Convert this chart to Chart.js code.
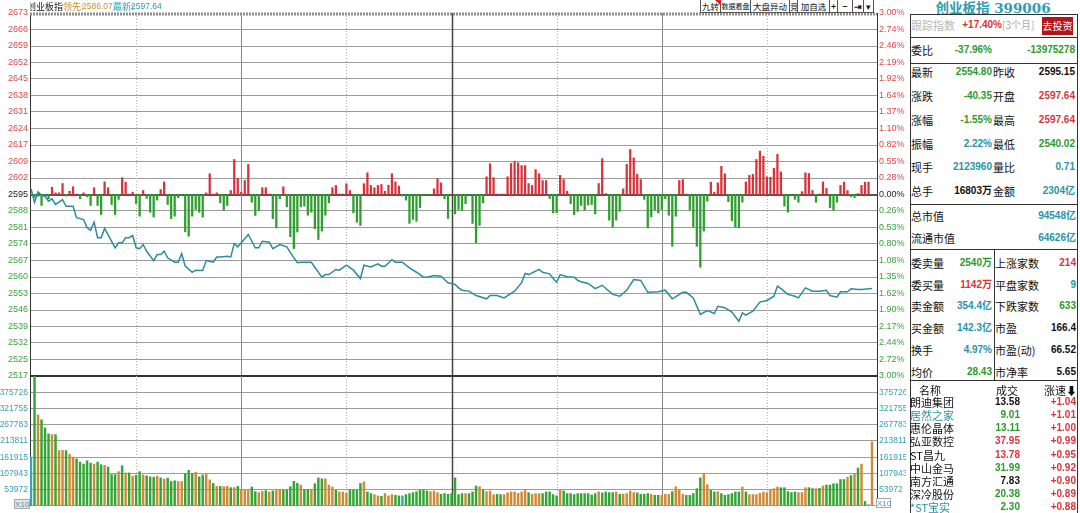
<!DOCTYPE html>
<html>
<head>
<meta charset="utf-8">
<title>创业板指 分时</title>
<script src="https://cdn.jsdelivr.net/npm/chart.js@4.4.1/dist/chart.umd.min.js"></script>
<style>
  html, body { margin: 0; padding: 0; background: #fff; }
  #wrap { position: relative; width: 1080px; height: 513px; overflow: hidden; background: #fff;
          font-family: "Noto Sans CJK SC", "Liberation Sans", sans-serif; }
  .box { position: absolute; }
  .abs { position: absolute; white-space: nowrap; height: 16px; line-height: 16px; }
  .lb { font-size: 11px; color: #111; }
  .vl { font-size: 10px; font-weight: bold; font-family: "Liberation Sans", "Noto Sans CJK SC", sans-serif; }
  .title { font-size: 13.5px; font-weight: bold; font-family: "DejaVu Serif", "Noto Sans CJK SC", serif; }
  .ln { position: absolute; background: #333; }
  #head { position: absolute; left: 30px; top: 0; width: 300px; height: 13px; overflow: hidden; font-size: 9px; line-height: 13px; }
  #head span { position: absolute; top: 0; white-space: nowrap; }
  #head .num { font-family: "Liberation Sans", sans-serif; font-size: 8.5px; }
  #tools span { position: absolute; top: 0; line-height: 12px; border: 1px solid #555; border-top: none;
                font-size: 8.5px; text-align: center; color: #111; background: #fff; box-sizing: border-box; height: 13px; }
  .x10 { position: absolute; font-size: 8px; line-height: 9px; height: 10px; border: 1px solid #aaa; color: #5a8fae;
         font-family: "Liberation Sans", sans-serif; text-align: center; box-sizing: border-box; }
</style>
</head>
<body>
<div id="wrap">
  <div class="box" style="left:0;top:0;width:906px;height:386px"><canvas id="priceCanvas"></canvas></div>
  <div class="box" style="left:0;top:368px;width:906px;height:145px"><canvas id="volCanvas"></canvas></div>

  <div id="head">
    <span style="left:-3px;color:#111">创业板指</span>
    <span style="left:33px;color:#c8902e">领先:</span>
    <span class="num" style="left:52px;color:#c8902e">2586.07</span>
    <span style="left:83px;color:#2a9aaa">最新:</span>
    <span class="num" style="left:101px;color:#2a9aaa">2597.64</span>
  </div>

  <div id="tools">
    <span style="left:700px;width:21px">九转</span>
    <span style="left:720px;width:31px;font-size:7px">数据看盘</span>
    <span style="left:750px;width:40px">大盘异动</span>
    <span style="left:789px;width:9px">竞</span>
    <span style="left:797px;width:33px">加自选</span>
    <span style="left:829px;width:9px;font-weight:bold">+</span>
    <span style="left:837px;width:16px;font-weight:bold">−</span>
    <span style="left:852px;width:12px;font-weight:bold">⇥</span>
    <span style="left:863px;width:11px">▾</span>
  </div>
  <div style="position:absolute;left:715px;top:0;width:0;height:0;border-top:6px solid #e02020;border-left:6px solid transparent"></div>

  <div class="x10" style="left:14px;top:499px;width:16px;background:#e4e4e4">X10</div>
  <div class="x10" style="left:876px;top:498px;width:15px;background:#fff">X10</div>
</div>

<script>
// Reference values
const prevClose = 2595.15;
const pMax = prevClose * 1.03;
const pMin = prevClose * 0.97;
const volStep = 53972;

// Tick labels as shown, top to bottom
const priceTicks = ["2673","2666","2659","2652","2645","2638","2631","2624","2617","2609","2602","2595",
  "2588","2581","2574","2567","2560","2553","2546","2539","2532","2525","2517"];
const pctTicks = ["3.00%","2.74%","2.46%","2.19%","1.92%","1.64%","1.37%","1.10%","0.82%","0.55%","0.28%","0.00%",
  "0.26%","0.53%","0.80%","1.08%","1.35%","1.62%","1.90%","2.17%","2.44%","2.72%","3.00%"];
const volTicks = ["375726","321755","267783","213811","161915","107943","53972"];

// Minutes after 9:30 (0..240, lunch break removed) where the time grid lines sit
const gridMinutes = [30, 60, 90, 120, 150, 180, 210];

// Index line: minute -> price
const lineMinutes = [
  0, 1, 2, 3, 4, 5, 6, 7, 9, 10,
  12, 13, 15, 16, 17, 18, 19, 20, 21, 24,
  25, 26, 27, 28, 29, 30, 31, 32, 33, 35,
  36, 37, 38, 39, 41, 42, 43, 44, 46, 47,
  49, 50, 52, 53, 54, 56, 57, 58, 59, 62,
  64, 65, 66, 68, 69, 71, 73, 74, 76, 77,
  80, 83, 84, 85, 87, 88, 90, 92, 94, 95,
  97, 99, 100, 101, 103, 104, 106, 108, 110, 112,
  113, 115, 117, 119, 120, 121, 122, 123, 125, 127,
  130, 131, 133, 135, 137, 138, 140, 141, 142, 145,
  146, 148, 149, 150, 151, 153, 155, 156, 157, 159,
  161, 163, 166, 168, 170, 172, 174, 176, 179, 181,
  183, 186, 187, 189, 191, 193, 195, 196, 198, 200,
  202, 203, 204, 206, 208, 210, 212, 213, 214, 216,
  218, 219, 221, 223, 225, 227, 228, 230, 231, 233,
  234, 236, 237, 240
];
const linePrices = [
  2597.6, 2591.8, 2596.3, 2594.8, 2594.4, 2592.3, 2593.3, 2590.9, 2593.0, 2590.1,
  2590.1, 2585.2, 2584.4, 2580.9, 2579.8, 2583.3, 2576.6, 2576.6, 2580.6, 2572.3,
  2574.4, 2574.4, 2576.6, 2576.6, 2577.6, 2572.3, 2571.9, 2573.7, 2570.8, 2566.8,
  2569.4, 2569.4, 2570.8, 2568.0, 2566.1, 2566.1, 2569.8, 2564.4, 2561.8, 2562.7,
  2562.6, 2566.8, 2566.1, 2568.3, 2568.3, 2568.7, 2568.4, 2574.1, 2572.7, 2578.0,
  2572.3, 2572.3, 2575.1, 2574.7, 2571.9, 2573.7, 2572.7, 2570.2, 2565.9, 2566.1,
  2566.1, 2559.7, 2560.8, 2560.8, 2563.0, 2562.7, 2564.8, 2562.7, 2559.1, 2564.8,
  2564.1, 2565.4, 2564.4, 2564.4, 2567.2, 2566.1, 2566.1, 2563.7, 2561.8, 2559.7,
  2559.7, 2560.4, 2560.1, 2557.3, 2557.0, 2556.6, 2555.1, 2554.1, 2553.7, 2551.8,
  2550.4, 2551.8, 2551.8, 2550.8, 2552.7, 2553.7, 2557.3, 2561.3, 2560.8, 2563.0,
  2561.8, 2561.1, 2559.1, 2557.5, 2560.8, 2559.9, 2559.7, 2558.3, 2557.7, 2557.0,
  2554.8, 2556.2, 2552.3, 2551.5, 2554.1, 2558.7, 2558.3, 2553.2, 2553.4, 2554.1,
  2550.4, 2553.2, 2553.2, 2550.8, 2543.7, 2545.4, 2544.1, 2547.2, 2546.6, 2544.7,
  2540.8, 2544.4, 2543.4, 2545.1, 2549.0, 2549.7, 2551.5, 2555.8, 2554.8, 2552.3,
  2551.5, 2550.8, 2555.1, 2553.7, 2553.7, 2554.1, 2551.8, 2551.1, 2553.4, 2553.4,
  2554.7, 2554.4, 2554.4, 2554.8
];

// Red/green strength bars, index points from the previous close, one per minute
const leadBars = [
  -0.2, -1.2, -0.7, -4.7, -0.2, -1.8, 3.1, 0.7, 0.7, 4.7,
  -0.7, 1.4, 3.3, 0.2, -1.8, 0.7, -1.0, -4.7, 2.9, -4.7,
  -8.6, 5.4, 2.9, -4.3, -8.6, -2.1, 7.2, 5.3, 0.2, 1.0,
  -3.9, -9.3, 1.7, -1.7, -7.6, -9.7, -2.4, 2.1, 5.4, -4.3,
  -10.4, -9.3, -1.4, -0.2, -16.0, -17.9, -9.3, -6.4, -7.6, -9.7,
  0.7, 8.9, 0.2, 0.7, -3.6, -6.7, -4.7, 1.7, 15.0, 6.9,
  1.0, 6.0, 12.9, -3.3, -9.0, -6.9, 2.9, 2.9, 0.2, -10.4,
  -14.3, -1.8, 3.3, -5.3, -18.1, -23.2, -16.1, -5.3, -5.0, -8.9,
  -7.6, -14.7, -19.3, -15.7, -8.9, -3.6, 2.9, 3.9, 0.2, 0.2,
  4.6, 1.7, -7.9, -11.9, -13.3, 4.6, 9.3, 3.9, 2.9, 3.9,
  4.3, 1.4, 4.0, 8.9, 5.4, 3.6, -0.7, -2.4, -12.4, -10.7,
  -11.5, -5.7, -0.2, -0.2, -0.2, 2.4, 6.7, 5.0, -1.8, -10.3,
  0, -8.3, -6.4, -6.9, -3.9, -0.2, -12.4, -20.7, -13.3, -3.6,
  7.6, 13.2, 7.2, 0.2, 0.2, 0.2, 7.6, 13.3, 14.3, 13.6,
  12.4, 12.4, 4.7, 3.9, 10.7, 8.9, 6.0, 6.0, -1.7, -7.9,
  -7.9, 8.2, 6.4, 1.4, -4.0, -8.6, -7.2, -4.7, -6.7, -4.5,
  -4.3, -8.3, 4.7, 15.4, 0.4, -11.0, -13.9, -11.0, -7.2, 2.4,
  12.9, 19.3, 15.7, 8.6, 6.4, -2.1, -14.3, -9.6, -6.7, -7.9,
  -6.4, -1.8, -8.9, -22.2, -9.3, 6.0, 6.4, 0.2, -6.7, -13.9,
  -22.2, -31.2, -15.7, -2.9, 5.3, 1.0, 5.0, 12.1, 8.9, -3.1,
  -11.2, -13.9, -14.3, -3.3, 5.4, 8.2, 8.6, 15.0, 18.6, 16.4,
  7.6, 7.4, 11.2, 17.2, 9.7, -5.0, -7.6, -0.2, -2.1, -3.3,
  1.2, 9.3, 9.0, 1.7, -3.3, 0.2, 5.4, 2.6, -5.7, -6.7,
  -3.3, 3.9, 5.3, 1.7, -1.0, -1.4, 0.4, 3.9, 5.3, 5.3
];

// Volume per minute (0..240)
const volumes = [
  161900, 460000, 302600, 286200, 259100, 239400, 237100, 237100, 183800, 184800,
  183800, 171700, 161900, 156400, 145600, 139000, 149800, 142300, 139000, 145600,
  136700, 134800, 129200, 104000, 104000, 113800, 133500, 109600, 109600, 98800,
  102100, 113800, 103000, 99800, 96500, 95500, 98800, 93200, 89000, 92200,
  81100, 83400, 81100, 81100, 107300, 118400, 107300, 111900, 96500, 103000,
  107300, 86700, 74600, 64800, 64800, 63800, 64800, 60500, 60500, 64800,
  53000, 54000, 53000, 62800, 47400, 44200, 48400, 50700, 46400, 49700,
  51700, 55000, 51700, 53000, 63800, 81800, 75200, 69300, 55000, 55000,
  55000, 73600, 93200, 90000, 90000, 69300, 62800, 51700, 46400, 46400,
  43200, 53000, 53000, 53000, 74600, 80100, 46400, 40900, 37600, 33400,
  32100, 40900, 33400, 37600, 35300, 33400, 33400, 37600, 40900, 44200,
  47400, 53000, 53000, 49700, 47400, 49700, 44200, 38600, 40900, 38600,
  40900, 93200, 37600, 40900, 40900, 40900, 46400, 66100, 63800, 53000,
  47400, 49700, 37600, 38600, 37600, 37600, 43200, 46400, 46400, 41900,
  46400, 51700, 44200, 38600, 40900, 40900, 40900, 46400, 46400, 37600,
  33400, 51700, 49700, 40900, 40900, 37600, 40900, 40900, 40900, 40900,
  36600, 40900, 46400, 43200, 46400, 44200, 44200, 46400, 38600, 38600,
  40900, 49700, 44200, 43200, 38600, 38600, 40900, 38600, 35300, 35300,
  35300, 38600, 38600, 47400, 63800, 51700, 38600, 35300, 35300, 40900,
  57200, 93200, 106300, 70300, 51700, 46400, 47400, 40900, 35300, 37600,
  40900, 46400, 46400, 62800, 46400, 37600, 37600, 37600, 41900, 46400,
  44200, 51700, 57200, 62800, 60500, 60500, 47400, 44200, 46400, 44200,
  44200, 60500, 60500, 57200, 57200, 58200, 66100, 69300, 69300, 73600,
  73600, 87700, 87700, 95500, 100700, 106300, 125900, 139000, 14700, 3900,
  213300
];
// Minute direction: 1 up, -1 down, 0 flat
const volDir = [
  0, -1, 1, -1, -1, -1, 1, -1, 1, 1,
  -1, 1, 1, -1, -1, -1, -1, -1, 1, -1,
  -1, 1, -1, -1, -1, 1, -1, 1, -1, 1,
  -1, -1, 1, -1, -1, -1, 1, -1, 1, -1,
  -1, -1, 1, 1, -1, -1, -1, 1, -1, -1,
  1, 1, -1, 1, -1, 1, 1, -1, 1, -1,
  1, 1, 1, -1, -1, 1, 1, -1, 1, -1,
  1, 1, -1, -1, -1, -1, -1, 1, -1, -1,
  1, -1, -1, -1, 1, 1, 1, -1, 1, 1,
  1, -1, -1, -1, -1, 1, -1, -1, 1, 1,
  -1, 1, 1, 1, -1, -1, 0, -1, -1, -1,
  -1, -1, -1, -1, 1, 1, 1, -1, -1, -1,
  -1, -1, -1, -1, 1, -1, -1, -1, 1, -1,
  1, 1, 1, -1, -1, 1, 1, 1, 1, 1,
  1, 1, -1, 1, 1, 1, -1, -1, -1, -1,
  -1, 1, -1, -1, -1, -1, -1, -1, -1, -1,
  -1, -1, 1, -1, -1, -1, -1, 1, -1, 1,
  1, 1, 1, -1, -1, -1, -1, 1, -1, -1,
  1, 1, 1, -1, 1, 1, 1, -1, -1, -1,
  -1, -1, 1, 1, -1, -1, 1, -1, -1, -1,
  -1, -1, -1, 1, -1, 1, 1, 1, 1, 1,
  1, 1, 1, 1, -1, -1, -1, -1, -1, 1,
  1, 1, -1, -1, 1, -1, 1, -1, -1, -1,
  -1, -1, -1, 1, -1, 1, -1, 1, -1, 0,
  1
];

const RED = "#d8323a", GREEN = "#2e9f2e";
const RED_T = "#e04a4a", GREEN_T = "#3aa63a", TEAL_T = "#3a9fb5";
const xMin = -0.29, xMax = 241.42;

// Time grid lines, drawn behind the data on both panels
const guideLines = {
  id: "guides",
  beforeDatasetsDraw(chart) {
    const { ctx, chartArea: a, scales: { x } } = chart;
    ctx.save();
    gridMinutes.forEach((m) => {
      const px = Math.round(x.getPixelForValue(m)) + 0.5;
      if (m === 120) { ctx.strokeStyle = "#444"; ctx.lineWidth = 1.5; ctx.setLineDash([]); }
      else if (m % 60 === 0) { ctx.strokeStyle = "#8a8a8a"; ctx.lineWidth = 1; ctx.setLineDash([]); }
      else { ctx.strokeStyle = "#b4b4b4"; ctx.lineWidth = 1; ctx.setLineDash([1, 2]); }
      ctx.beginPath(); ctx.moveTo(px, a.top); ctx.lineTo(px, a.bottom); ctx.stroke();
    });
    ctx.restore();
  }
};

// Checkered band on the top price line
const topBand = {
  id: "topBand",
  beforeDatasetsDraw(chart) {
    const { ctx, chartArea: a, scales: { y } } = chart;
    const py = Math.round(y.getPixelForValue(pMax)) + 1;
    ctx.save();
    ctx.strokeStyle = "#8e8e8e"; ctx.lineWidth = 3; ctx.setLineDash([2, 1]);
    ctx.beginPath(); ctx.moveTo(a.left, py); ctx.lineTo(a.right, py); ctx.stroke();
    ctx.restore();
  }
};

function priceAxis(pos, labels) {
  const mid = (labels.length - 1) / 2;
  return {
    position: pos, min: pMin, max: pMax,
    afterBuildTicks: (s) => {
      s.ticks = labels.map((_, i) => ({ value: pMin + i * (pMax - pMin) / (labels.length - 1) }));
    },
    afterFit: (s) => { s.width = pos === "left" ? 30 : 29; },
    ticks: {
      autoSkip: false, padding: 2, font: { size: 9, family: "Liberation Sans" },
      callback: (v, i) => labels[labels.length - 1 - i],
      color: (c) => (c.index > mid ? RED_T : c.index === mid ? "#222" : GREEN_T)
    },
    grid: {
      drawOnChartArea: pos === "left", drawTicks: false,
      color: (c) => c.index === mid ? "#555" : c.index === 0 ? "#333" :
        c.index === labels.length - 1 ? "rgba(0,0,0,0)" : "#9c9c9c",
      lineWidth: (c) => (c.index === mid || c.index === 0 ? 2 : 1)
    },
    border: { color: "#333", width: 1 }
  };
}

function volAxis(pos) {
  return {
    position: pos, min: 0, max: volStep * 8,
    afterBuildTicks: (s) => {
      s.ticks = [0, 1, 2, 3, 4, 5, 6, 7, 8].map((k) => ({ value: k * volStep }));
    },
    afterFit: (s) => { s.width = pos === "left" ? 30 : 29; },
    ticks: {
      autoSkip: false, padding: 2, color: TEAL_T, font: { size: 8.5, family: "Liberation Sans" },
      callback: (v, i) => (i >= 1 && i <= 7 ? volTicks[7 - i] : "")
    },
    grid: {
      drawOnChartArea: pos === "left", drawTicks: false,
      color: (c) => (c.index === 8 ? "#333" : "#9c9c9c"),
      lineWidth: (c) => (c.index === 8 ? 2 : 1)
    },
    border: { color: "#333", width: 1 }
  };
}

const timeAxis = { type: "linear", display: false, offset: false, min: xMin, max: xMax };

const common = {
  responsive: true,
  maintainAspectRatio: false,
  animation: false,
  events: [],
  plugins: { legend: { display: false }, tooltip: { enabled: false } }
};

// Price panel
new Chart(document.getElementById("priceCanvas"), {
  data: {
    datasets: [
      {
        type: "line",
        data: lineMinutes.map((m, i) => ({ x: m, y: linePrices[i] })),
        borderColor: "#2b8c9c", borderWidth: 1.5, pointRadius: 0, tension: 0, order: 0
      },
      {
        type: "bar",
        data: leadBars.map((d, i) => ({ x: i, y: [prevClose, prevClose + d] })),
        backgroundColor: (c) => (leadBars[c.dataIndex] >= 0 ? RED : GREEN),
        barThickness: 1.6, order: 1
      }
    ]
  },
  options: {
    ...common,
    layout: { padding: { top: 13, bottom: 10, left: 0, right: 0 } },
    scales: {
      x: timeAxis,
      y: priceAxis("left", priceTicks),
      y2: priceAxis("right", pctTicks)
    }
  },
  plugins: [guideLines, topBand]
});

// Volume panel
new Chart(document.getElementById("volCanvas"), {
  type: "bar",
  data: {
    datasets: [
      {
        data: volumes.map((v, i) => ({ x: i, y: v })),
        backgroundColor: (c) => {
          const d = volDir[c.dataIndex];
          return d > 0 ? "#cf8a35" : d < 0 ? "#34a534" : "#3a9fc0";
        },
        barThickness: 1.8
      }
    ]
  },
  options: {
    ...common,
    layout: { padding: { top: 8, bottom: 4.5, left: 0, right: 0 } },
    scales: {
      x: timeAxis,
      y: volAxis("left"),
      y2: volAxis("right")
    }
  },
  plugins: [guideLines]
});

// Quote panel on the right
const wrap = document.getElementById("wrap");
const R = "#d9343c", G = "#2b9a2b", T = "#2a94a8", K = "#111";

function put(text, x, y, cls, color, align) {
  const d = document.createElement("div");
  d.className = "abs " + cls;
  d.textContent = text;
  d.style.top = (y - 8) + "px";
  if (color) d.style.color = color;
  if (align === "r") d.style.right = (1080 - x) + "px";
  else if (align === "c") { d.style.left = (x - 70) + "px"; d.style.width = "140px"; d.style.textAlign = "center"; }
  else d.style.left = x + "px";
  wrap.appendChild(d);
  return d;
}
function rule(x, y, w, h) {
  const d = document.createElement("div");
  d.className = "ln";
  d.style.cssText = `left:${x}px;top:${y}px;width:${w}px;height:${h}px`;
  wrap.appendChild(d);
}

put("创业板指 399006", 993, 8, "title", "#2a9fb0", "c");

rule(910, 14, 1, 499);
rule(1077, 14, 1, 499);
rule(910, 14, 168, 1);
[37, 63, 204, 249, 380].forEach((y) => rule(910, y, 168, 1));
rule(994, 249, 1, 131);

put("跟踪指数", 911, 25, "lb", "#b8b8b8");
put("+17.40%", 1002, 25, "vl", R, "r");
put("[3个月]", 1002, 25, "lb", "#aaa").style.fontSize = "10px";
const btn = put("去投资", 1042, 26, "lb", "#fff");
btn.style.cssText += "width:31px;height:18px;line-height:18px;top:17px;background:#b3151a;text-align:center;font-size:10px;";

put("委比", 911, 50, "lb");
put("-37.96%", 992, 50, "vl", G, "r");
put("-13975278", 1075, 50, "vl", G, "r");

const quoteRows = [
  ["最新", "2554.80", G, "昨收", "2595.15", K],
  ["涨跌", "-40.35", G, "开盘", "2597.64", R],
  ["涨幅", "-1.55%", G, "最高", "2597.64", R],
  ["振幅", "2.22%", T, "最低", "2540.02", G],
  ["现手", "2123960", T, "量比", "0.71", T],
  ["总手", "16803万", K, "金额", "2304亿", T]
];
const quoteY = [72, 96, 120, 144, 167, 191];
quoteRows.forEach((r, i) => {
  put(r[0], 911, quoteY[i], "lb");
  put(r[1], 992, quoteY[i], "vl", r[2], "r");
  put(r[3], 993, quoteY[i], "lb");
  put(r[4], 1075, quoteY[i], "vl", r[5], "r");
});

put("总市值", 911, 216, "lb");
put("94548亿", 1076, 216, "vl", T, "r");
put("流通市值", 911, 238, "lb");
put("64626亿", 1076, 238, "vl", T, "r");

const bookRows = [
  ["委卖量", "2540万", G, "上涨家数", "214", R],
  ["委买量", "1142万", R, "平盘家数", "9", T],
  ["卖金额", "354.4亿", T, "下跌家数", "633", G],
  ["买金额", "142.3亿", T, "市盈", "166.4", K],
  ["换手", "4.97%", T, "市盈(动)", "66.52", K],
  ["均价", "28.43", G, "市净率", "5.65", K]
];
const bookY = [263, 285, 306, 328, 350, 372];
bookRows.forEach((r, i) => {
  put(r[0], 911, bookY[i], "lb");
  put(r[1], 992, bookY[i], "vl", r[2], "r");
  put(r[3], 995, bookY[i], "lb");
  put(r[4], 1076, bookY[i], "vl", r[5], "r");
});

put("名称", 930, 390, "lb", K, "c");
put("成交", 1007, 390, "lb", K, "c");
put("涨速⬇", 1077, 390, "lb", K, "r");

const stocks = [
  ["朗迪集团", K, "13.58", K, "+1.04"],
  ["居然之家", T, "9.01", G, "+1.01"],
  ["惠伦晶体", K, "13.11", G, "+1.00"],
  ["弘亚数控", K, "37.95", R, "+0.99"],
  ["ST昌九", K, "13.78", R, "+0.95"],
  ["中山金马", K, "31.99", G, "+0.92"],
  ["南方汇通", K, "7.83", K, "+0.90"],
  ["深冷股份", K, "20.38", G, "+0.89"],
  ["*ST宝实", T, "2.30", G, "+0.88"]
];
const stockY = [402, 415, 428, 441, 455, 468, 481, 494, 507];
stocks.forEach((s, i) => {
  put(s[0], 910, stockY[i], "lb", s[1]);
  put(s[2], 1020, stockY[i], "vl", s[3], "r");
  put(s[4], 1076, stockY[i], "vl", R, "r");
});
</script>
</body>
</html>
